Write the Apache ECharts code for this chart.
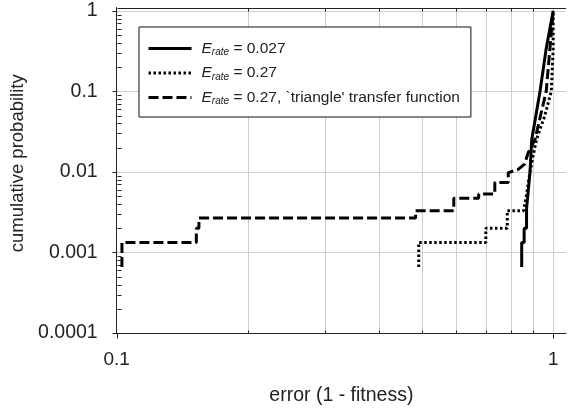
<!DOCTYPE html>
<html>
<head>
<meta charset="utf-8">
<script src="https://cdn.jsdelivr.net/npm/echarts@6/dist/echarts.min.js"></script>
<style>
html,body{margin:0;padding:0;background:#fff;}
#chart{width:569px;height:411px;}
</style>
</head>
<body>
<div id="chart"></div>
<script>
// ---- data ----
const seriesNames = ['E_rate = 0.027', 'E_rate = 0.27', "E_rate = 0.27, `triangle' transfer function"];
const legendRest = [' = 0.027', ' = 0.27', " = 0.27, `triangle' transfer function"];

const solidX = [0.847, 0.847, 0.858, 0.858, 0.869, 0.869, 0.885, 0.893, 0.933, 0.963, 1.0];
const solidY = [0.00066, 0.00133, 0.00133, 0.002, 0.002, 0.0035, 0.01, 0.025, 0.1, 0.33, 1.0];

const dotX = [0.492, 0.492, 0.701, 0.701, 0.785, 0.785, 0.855, 0.868, 0.885, 0.915, 0.957, 0.990, 1.0, 1.0];
const dotY = [0.00066, 0.00133, 0.00133, 0.002, 0.002, 0.0033, 0.0033, 0.005, 0.01, 0.025, 0.05, 0.1, 0.33, 1.0];

const dashX = [0.1028, 0.1028, 0.1522, 0.1522, 0.1543, 0.1543, 0.484, 0.484, 0.592, 0.592, 0.675, 0.675, 0.735, 0.735, 0.789, 0.789, 0.83, 0.86, 0.877, 0.908, 0.964, 1.0];
const dashY = [0.00066, 0.00133, 0.00133, 0.002, 0.002, 0.00267, 0.00267, 0.0033, 0.0033, 0.0047, 0.0047, 0.0053, 0.0053, 0.0074, 0.0074, 0.0098, 0.0107, 0.0125, 0.0175, 0.025, 0.1, 1.0];

const xTickVals = [0.1, 1];
const xTickLabels = ['0.1', '1'];
const yTickVals = [0.0001, 0.001, 0.01, 0.1, 1];
const yTickLabels = ['0.0001', '0.001', '0.01', '0.1', '1'];
const xMinorVals = [0.2, 0.3, 0.4, 0.5, 0.6, 0.7, 0.8, 0.9];
const yMinorMult = [2, 3, 4, 5, 6, 7, 8, 9];

const X_MIN = 0.1, X_MAX = 1.07, Y_MIN = 0.0001, Y_MAX = 1.1;
const FONT = '"Liberation Sans", Arial, Helvetica, sans-serif';
const GRID = '#d8ccc8';
const AXIS = '#222';

function zip(xs, ys) { return xs.map((x, i) => [x, ys[i]]); }
function findLabel(v, vals, labels) {
  for (let i = 0; i < vals.length; i++) {
    if (Math.abs(Math.log10(v / vals[i])) < 1e-6) return labels[i];
  }
  return '';
}
const yMinorVals = [];
yTickVals.slice(0, -1).forEach(d => yMinorMult.forEach(m => yMinorVals.push(m * d)));

function px(v) { return Math.round(v) + 0.5; }

function renderFrame(params, api) {
  const ch = [];
  const bl = api.coord([X_MIN, Y_MIN]);
  const tr = api.coord([X_MAX, Y_MAX]);
  const x0 = px(bl[0]), y0 = px(bl[1]), x1 = tr[0], y1 = px(tr[1]);
  const ln = (a, b, c, d, col) => ch.push({type: 'line', shape: {x1: a, y1: b, x2: c, y2: d}, style: {stroke: col, lineWidth: 1}});
  xMinorVals.concat([1]).forEach(v => { const p = px(api.coord([v, Y_MIN])[0]); ln(p, y1, p, y0, GRID); });
  yTickVals.slice(1).forEach(v => { const p = px(api.coord([X_MIN, v])[1]); ln(x0, p, x1, p, GRID); });
  ln(x0, y1, x1, y1, AXIS);
  yTickVals.forEach(v => { const p = px(api.coord([X_MIN, v])[1]); ln(x0 - 5, p, x0, p, AXIS); });
  yMinorVals.forEach(v => { const p = px(api.coord([X_MIN, v])[1]); ln(x0, p, x0 + 4, p, AXIS); });
  xTickVals.forEach(v => { const p = px(api.coord([v, Y_MIN])[0]); ln(p, y0, p, y0 + 5, AXIS); });
  xMinorVals.forEach(v => { const p = px(api.coord([v, Y_MIN])[0]); ln(p, y0 - 3, p, y0, AXIS); ln(p, y1, p, y1 + 3, AXIS); });
  return {type: 'group', children: ch};
}

const chart = echarts.init(document.getElementById('chart'), null, {renderer: 'canvas'});
chart.setOption({
  animation: false,
  backgroundColor: '#fff',
  grid: {left: 116.7, top: 7.5, right: 1, bottom: 76},
  xAxis: {
    type: 'log', logBase: 10, min: X_MIN, max: X_MAX,
    axisLine: {show: true, lineStyle: {color: AXIS, width: 1}},
    axisTick: {show: false}, splitLine: {show: false}, minorTick: {show: false},
    axisLabel: {color: '#222', fontFamily: FONT, fontSize: 19, margin: 17,
      formatter: v => findLabel(v, xTickVals, xTickLabels)},
    name: 'error (1 - fitness)', nameLocation: 'middle', nameGap: 53,
    nameTextStyle: {color: '#222', fontFamily: FONT, fontSize: 19.5}
  },
  yAxis: {
    type: 'log', logBase: 10, min: Y_MIN, max: Y_MAX,
    axisLine: {show: true, lineStyle: {color: AXIS, width: 1}},
    axisTick: {show: false}, splitLine: {show: false}, minorTick: {show: false},
    axisLabel: {color: '#222', fontFamily: FONT, fontSize: 19.5, margin: 19,
      formatter: v => findLabel(v, yTickVals, yTickLabels)},
    name: 'cumulative probability', nameLocation: 'middle', nameGap: 89,
    nameTextStyle: {color: '#222', fontFamily: FONT, fontSize: 18.5, padding: [0, 0, 0, 14]}
  },
  legend: {
    orient: 'vertical', left: 139, top: 27,
    data: seriesNames,
    itemWidth: 43, itemHeight: 14, itemGap: 6.5,
    padding: [12.5, 11, 10.5, 8],
    borderColor: '#111', borderWidth: 1, backgroundColor: '#fff',
    itemStyle: {color: 'rgba(0,0,0,0)', borderWidth: 0, opacity: 0},
    lineStyle: {width: 3},
    formatter: name => '{e|E}{r|rate}{t|' + legendRest[seriesNames.indexOf(name)] + '}',
    textStyle: {
      fontFamily: FONT, fontSize: 15.5, color: '#222', lineHeight: 18,
      rich: {
        e: {fontFamily: FONT, fontSize: 15.5, fontStyle: 'italic', color: '#222', padding: [0, 0, 0, 5]},
        r: {fontFamily: FONT, fontSize: 10, fontStyle: 'italic', color: '#222', verticalAlign: 'bottom', lineHeight: 10, padding: [8, 0, 0, 0]},
        t: {fontFamily: FONT, fontSize: 15.5, color: '#222'}
      }
    }
  },
  series: [
    {type: 'custom', name: 'frame', silent: true, z: 1, clip: false,
     coordinateSystem: 'cartesian2d', renderItem: renderFrame, data: [[X_MIN, Y_MIN]]},
    {type: 'line', name: seriesNames[0], data: zip(solidX, solidY), symbol: 'none', showSymbol: false, z: 4,
     lineStyle: {color: '#000', width: 3, type: 'solid'}, itemStyle: {color: '#000'}},
    {type: 'line', name: seriesNames[1], data: zip(dotX, dotY), symbol: 'none', showSymbol: false, z: 3,
     lineStyle: {color: '#000', width: 3, type: [2.5, 2.5]}, itemStyle: {color: '#000'}},
    {type: 'line', name: seriesNames[2], data: zip(dashX, dashY), symbol: 'none', showSymbol: false, z: 3,
     lineStyle: {color: '#000', width: 3, type: [10, 4]}, itemStyle: {color: '#000'}}
  ]
});
</script>
</body>
</html>
